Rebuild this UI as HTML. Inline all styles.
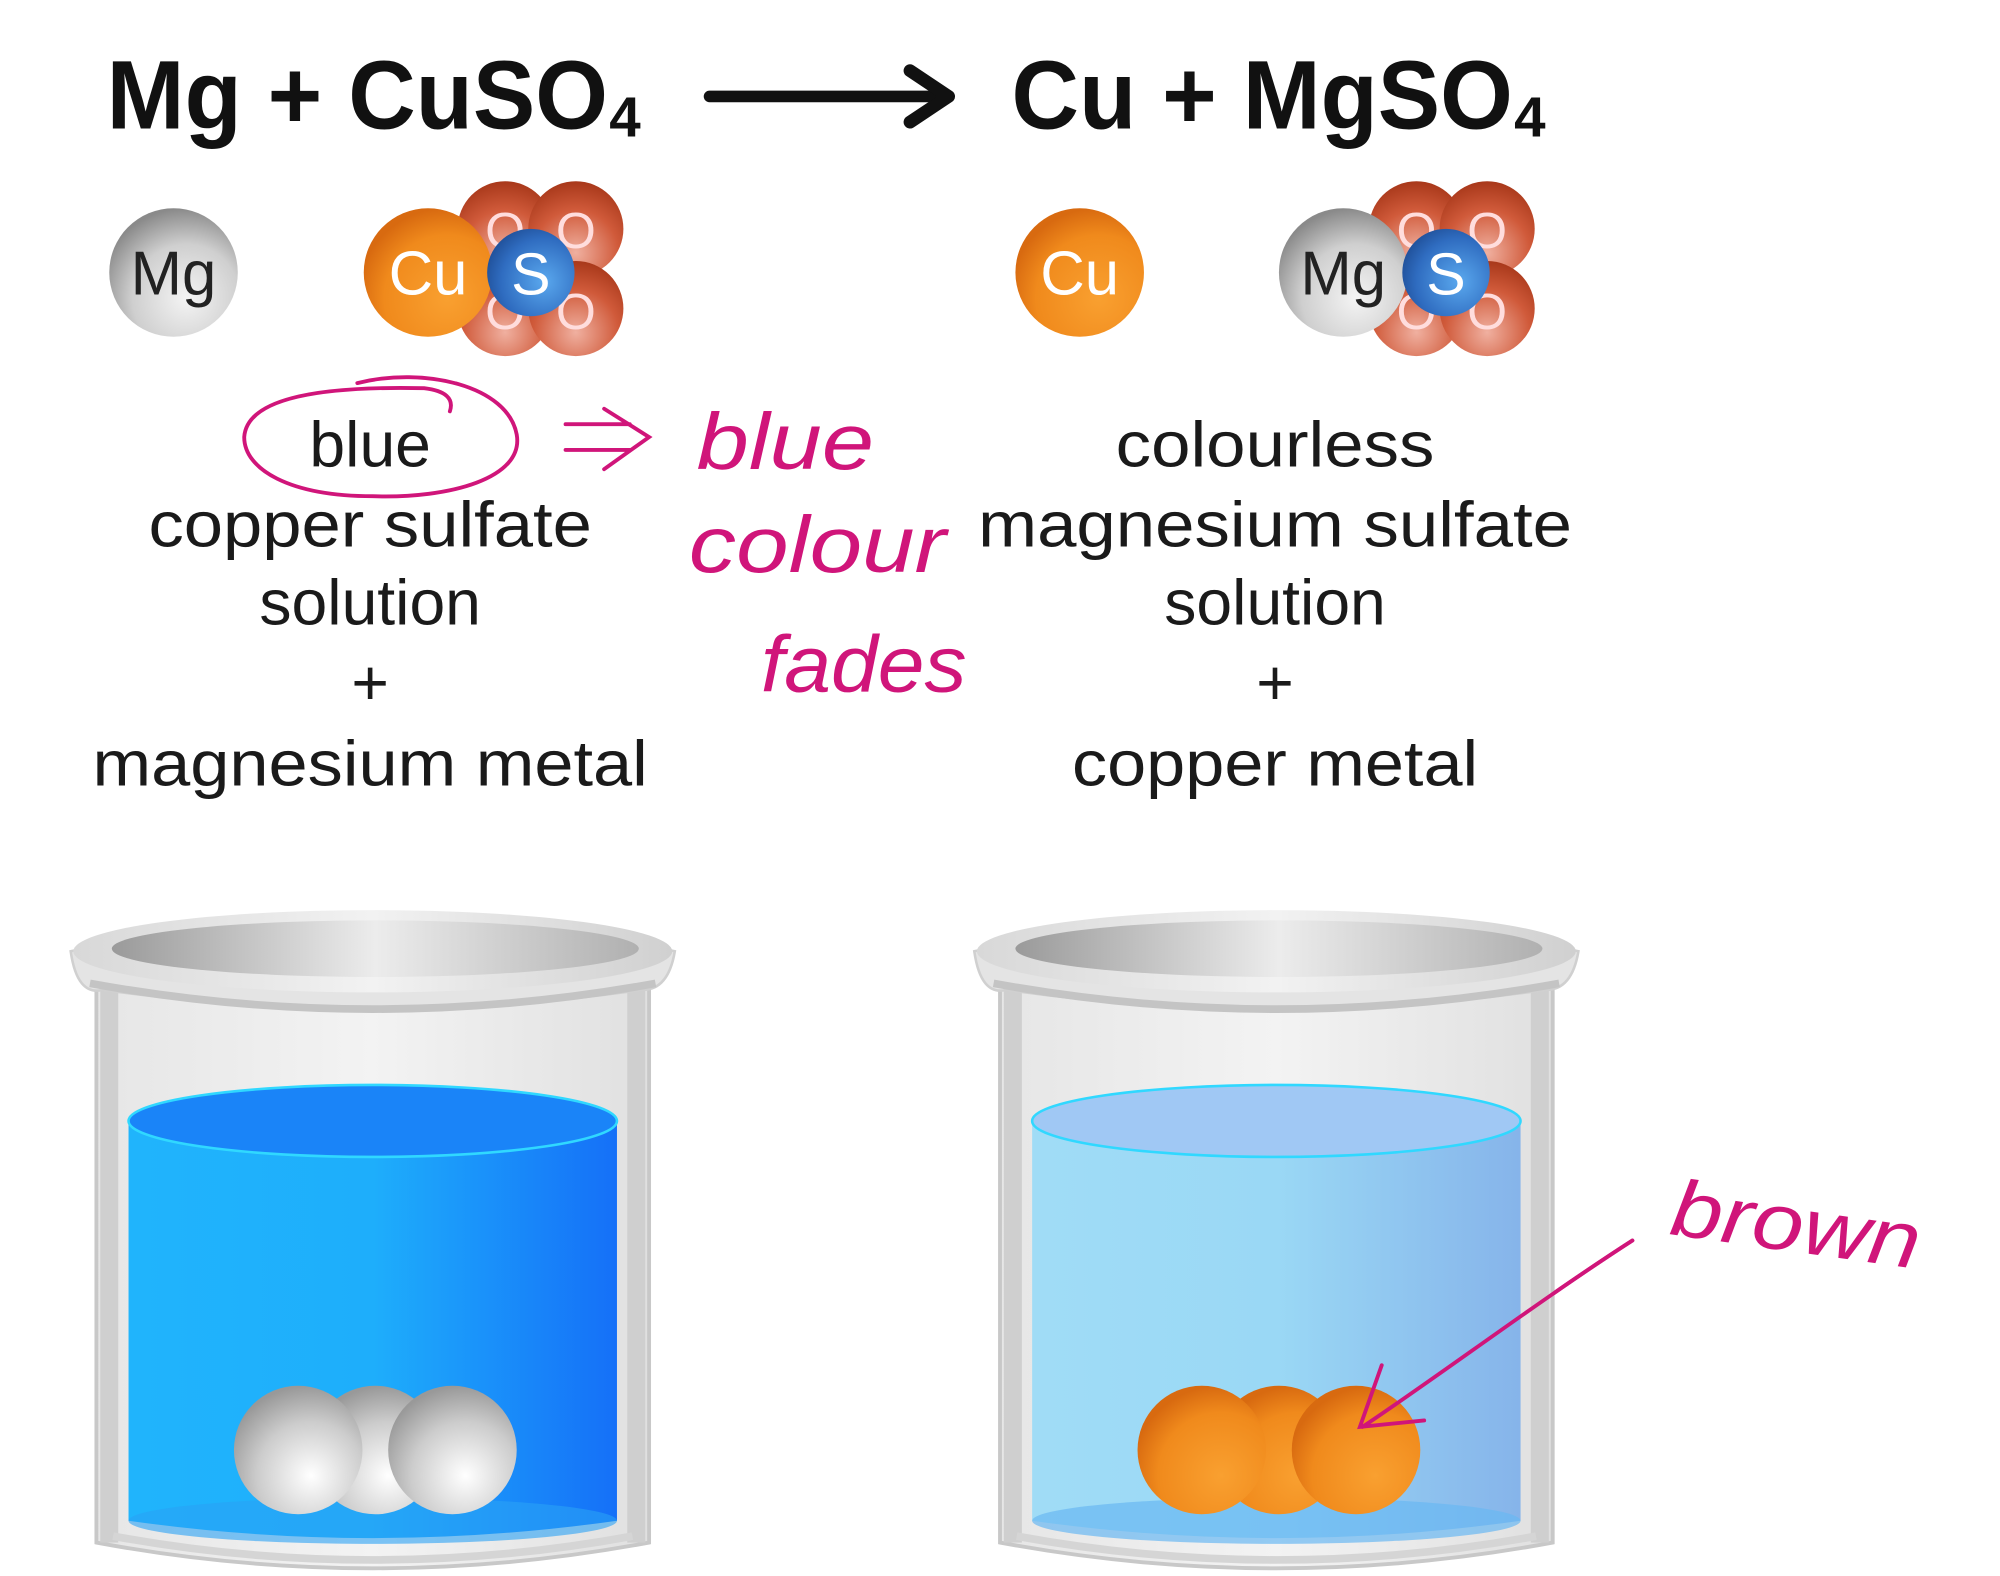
<!DOCTYPE html>
<html><head><meta charset="utf-8"><style>
html,body{margin:0;padding:0;background:#fff;width:2000px;height:1576px;overflow:hidden}
svg{display:block}
text{font-family:"Liberation Sans",sans-serif}
</style></head><body>
<svg width="2000" height="1576" viewBox="0 0 1556 1226" preserveAspectRatio="none" xmlns="http://www.w3.org/2000/svg">
<defs>
<radialGradient id="gMg" cx="0.6" cy="0.7" r="0.7"><stop offset="0" stop-color="#f4f4f4"/><stop offset="0.6" stop-color="#cfcfcf"/><stop offset="1" stop-color="#8a8a8a"/></radialGradient>
<radialGradient id="gCu" cx="0.65" cy="0.7" r="0.7"><stop offset="0" stop-color="#f9a030"/><stop offset="0.7" stop-color="#f08a1c"/><stop offset="1" stop-color="#d86a10"/></radialGradient>
<radialGradient id="gO" cx="0.5" cy="0.75" r="0.75"><stop offset="0" stop-color="#f0b0a0"/><stop offset="0.6" stop-color="#d05a3a"/><stop offset="1" stop-color="#a8381a"/></radialGradient>
<radialGradient id="gS" cx="0.65" cy="0.6" r="0.7"><stop offset="0" stop-color="#5aa8ee"/><stop offset="0.7" stop-color="#2f6cc0"/><stop offset="1" stop-color="#1f4f98"/></radialGradient>
<radialGradient id="gBall" cx="0.6" cy="0.7" r="0.7"><stop offset="0" stop-color="#ffffff"/><stop offset="0.6" stop-color="#cccccc"/><stop offset="1" stop-color="#999"/></radialGradient>
<linearGradient id="gL1" x1="0" x2="1"><stop offset="0" stop-color="#20b4fc"/><stop offset="0.5" stop-color="#1eaefb"/><stop offset="1" stop-color="#1570f8"/></linearGradient>
<linearGradient id="gL2" x1="0" x2="1"><stop offset="0" stop-color="#a0dcf6"/><stop offset="0.5" stop-color="#9ad8f5"/><stop offset="1" stop-color="#86b4ea"/></linearGradient>
<linearGradient id="gRim" x1="0" x2="1"><stop offset="0" stop-color="#d8d8d8"/><stop offset="0.5" stop-color="#f2f2f2"/><stop offset="1" stop-color="#d0d0d0"/></linearGradient>
<linearGradient id="gIn" x1="0" x2="1"><stop offset="0" stop-color="#9a9a9a"/><stop offset="0.5" stop-color="#ececec"/><stop offset="1" stop-color="#b0b0b0"/></linearGradient>
<linearGradient id="gBody" x1="0" x2="1"><stop offset="0" stop-color="#e6e6e6"/><stop offset="0.5" stop-color="#f3f3f3"/><stop offset="1" stop-color="#e0e0e0"/></linearGradient>
</defs>

<text x="83" y="100" font-size="76" font-weight="bold" fill="#111" textLength="390" lengthAdjust="spacingAndGlyphs">Mg + CuSO</text>
<text x="474" y="106" font-size="44" font-weight="bold" fill="#111">4</text>
<line x1="552" y1="75" x2="735" y2="75" stroke="#111" stroke-width="9" stroke-linecap="round"/>
<polyline points="708,55 738,75 708,95" fill="none" stroke="#111" stroke-width="10" stroke-linecap="round" stroke-linejoin="round"/>
<text x="787" y="100" font-size="76" font-weight="bold" fill="#111" textLength="390" lengthAdjust="spacingAndGlyphs">Cu + MgSO</text>
<text x="1178" y="106" font-size="44" font-weight="bold" fill="#111">4</text>

<circle cx="135" cy="212" r="50" fill="url(#gMg)"/>
<text x="135" y="229" font-size="48" fill="#222" text-anchor="middle">Mg</text>
<g>
<circle cx="393" cy="178" r="37" fill="url(#gO)"/><circle cx="448" cy="178" r="37" fill="url(#gO)"/>
<circle cx="393" cy="240" r="37" fill="url(#gO)"/><circle cx="448" cy="240" r="37" fill="url(#gO)"/>
<text x="393" y="193" font-size="40" fill="#fdd" text-anchor="middle">O</text><text x="448" y="193" font-size="40" fill="#fdd" text-anchor="middle">O</text>
<text x="393" y="256" font-size="40" fill="#fdd" text-anchor="middle">O</text><text x="448" y="256" font-size="40" fill="#fdd" text-anchor="middle">O</text>
<circle cx="333" cy="212" r="50" fill="url(#gCu)"/>
<text x="333" y="229" font-size="48" fill="#fff" text-anchor="middle">Cu</text>
<circle cx="413" cy="212" r="34" fill="url(#gS)"/>
<text x="413" y="229" font-size="46" fill="#fff" text-anchor="middle">S</text>
</g>
<circle cx="840" cy="212" r="50" fill="url(#gCu)"/>
<text x="840" y="229" font-size="48" fill="#fff" text-anchor="middle">Cu</text>
<g>
<circle cx="1102" cy="178" r="37" fill="url(#gO)"/><circle cx="1157" cy="178" r="37" fill="url(#gO)"/>
<circle cx="1102" cy="240" r="37" fill="url(#gO)"/><circle cx="1157" cy="240" r="37" fill="url(#gO)"/>
<text x="1102" y="193" font-size="40" fill="#fdd" text-anchor="middle">O</text><text x="1157" y="193" font-size="40" fill="#fdd" text-anchor="middle">O</text>
<text x="1102" y="256" font-size="40" fill="#fdd" text-anchor="middle">O</text><text x="1157" y="256" font-size="40" fill="#fdd" text-anchor="middle">O</text>
<circle cx="1045" cy="212" r="50" fill="url(#gMg)"/>
<text x="1045" y="229" font-size="48" fill="#222" text-anchor="middle">Mg</text>
<circle cx="1125" cy="212" r="34" fill="url(#gS)"/>
<text x="1125" y="229" font-size="46" fill="#fff" text-anchor="middle">S</text>
</g>

<g font-size="50" fill="#1a1a1a" text-anchor="middle">
<text x="288" y="363">blue</text>
<text x="288" y="425" textLength="345" lengthAdjust="spacingAndGlyphs">copper sulfate</text>
<text x="288" y="486">solution</text>
<text x="288" y="548">+</text>
<text x="288" y="611" textLength="432" lengthAdjust="spacingAndGlyphs">magnesium metal</text>
<text x="992" y="363" textLength="248" lengthAdjust="spacingAndGlyphs">colourless</text>
<text x="992" y="425" textLength="462" lengthAdjust="spacingAndGlyphs">magnesium sulfate</text>
<text x="992" y="486">solution</text>
<text x="992" y="548">+</text>
<text x="992" y="611" textLength="316" lengthAdjust="spacingAndGlyphs">copper metal</text>
</g>

<g stroke="#d0157a" stroke-width="3" fill="none" stroke-linecap="round">
<path d="M278,298 C330,285 395,300 402,338 C408,372 350,388 290,386 C225,386 190,365 190,340 C192,312 240,300 330,302 Q355,305 350,320"/>
<path d="M440,330 L490,330 M440,350 L490,350 M470,318 L505,340 L470,365"/>
<path d="M1270,965 C1200,1010 1120,1070 1060,1110 M1075,1062 L1058,1110 L1108,1105"/>
</g>
<g fill="#d0157a" font-style="italic" font-size="62">
<text x="542" y="365" textLength="138" lengthAdjust="spacingAndGlyphs">blue</text>
<text x="536" y="445" textLength="200" lengthAdjust="spacingAndGlyphs">colour</text>
<text x="592" y="538" textLength="160" lengthAdjust="spacingAndGlyphs">fades</text>
<text x="1298" y="960" textLength="195" lengthAdjust="spacingAndGlyphs" transform="rotate(8 1298 960)">brown</text>
</g>

<g>
<path d="M75,760 L75,1200 Q290,1240 505,1200 L505,760 Z" fill="url(#gBody)" stroke="#c8c8c8" stroke-width="3"/>
<rect x="78" y="770" width="14" height="430" fill="#cfcfcf"/>
<rect x="488" y="770" width="14" height="430" fill="#cfcfcf"/>
<path d="M88,1195 Q290,1232 492,1195" fill="none" stroke="#d5d5d5" stroke-width="6"/>
<path d="M100,870 L100,1183 Q290,1210 480,1183 L480,870 Z" fill="url(#gL1)"/>
<ellipse cx="290" cy="1183" rx="190" ry="18" fill="#2aa2f5" opacity="0.6"/>
<ellipse cx="290" cy="872" rx="190" ry="28" fill="#1a84f8" stroke="#30d8ff" stroke-width="2"/>
<circle cx="292" cy="1128" r="50" fill="url(#gBall)"/>
<circle cx="232" cy="1128" r="50" fill="url(#gBall)"/>
<circle cx="352" cy="1128" r="50" fill="url(#gBall)"/>
<path d="M55,740 Q60,775 80,770 Q290,800 500,770 Q520,770 525,740 Q290,690 55,740 Z" fill="#e4e4e4" stroke="#d0d0d0" stroke-width="2"/>
<ellipse cx="290" cy="740" rx="233" ry="32" fill="url(#gRim)"/>
<ellipse cx="292" cy="738" rx="205" ry="22" fill="url(#gIn)"/>
<path d="M70,765 Q290,805 510,765" fill="none" stroke="#c4c4c4" stroke-width="6"/>
</g>
<g transform="translate(703,0)">
<path d="M75,760 L75,1200 Q290,1240 505,1200 L505,760 Z" fill="url(#gBody)" stroke="#c8c8c8" stroke-width="3"/>
<rect x="78" y="770" width="14" height="430" fill="#cfcfcf"/>
<rect x="488" y="770" width="14" height="430" fill="#cfcfcf"/>
<path d="M88,1195 Q290,1232 492,1195" fill="none" stroke="#d5d5d5" stroke-width="6"/>
<path d="M100,870 L100,1183 Q290,1210 480,1183 L480,870 Z" fill="url(#gL2)"/>
<ellipse cx="290" cy="1183" rx="190" ry="18" fill="#6ab8f2" opacity="0.7"/>
<ellipse cx="290" cy="872" rx="190" ry="28" fill="#a0c8f4" stroke="#30d8ff" stroke-width="2"/>
<circle cx="292" cy="1128" r="50" fill="url(#gCu)"/>
<circle cx="232" cy="1128" r="50" fill="url(#gCu)"/>
<circle cx="352" cy="1128" r="50" fill="url(#gCu)"/>
<path d="M55,740 Q60,775 80,770 Q290,800 500,770 Q520,770 525,740 Q290,690 55,740 Z" fill="#e4e4e4" stroke="#d0d0d0" stroke-width="2"/>
<ellipse cx="290" cy="740" rx="233" ry="32" fill="url(#gRim)"/>
<ellipse cx="292" cy="738" rx="205" ry="22" fill="url(#gIn)"/>
<path d="M70,765 Q290,805 510,765" fill="none" stroke="#c4c4c4" stroke-width="6"/>
</g>
<g stroke="#d0157a" stroke-width="3" fill="none" stroke-linecap="round">
<path d="M1270,965 C1200,1010 1120,1070 1060,1110 M1075,1062 L1058,1110 L1108,1105"/>
</g>
</svg>
</body></html>
